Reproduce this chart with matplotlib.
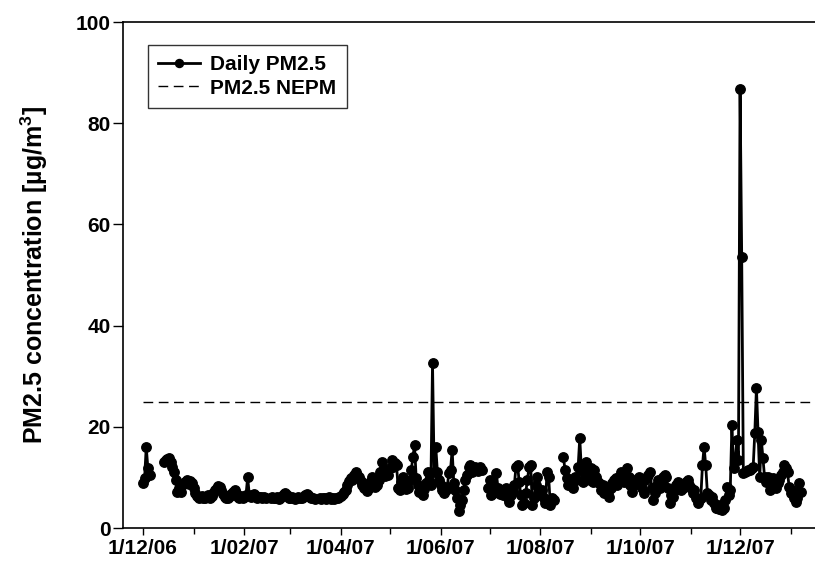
import matplotlib
matplotlib.use('Agg')
import matplotlib.pyplot as plt
import matplotlib.dates as mdates
import matplotlib.ticker as ticker
import pandas as pd

plt.rcParams['font.family'] = ['Liberation Sans', 'DejaVu Sans']
plt.rcParams['font.weight'] = 'bold'
plt.rcParams['axes.labelweight'] = 'bold'
plt.rcParams['mathtext.fontset'] = 'custom'
plt.rcParams['mathtext.rm'] = 'Liberation Sans:bold'
plt.rcParams['mathtext.bf'] = 'Liberation Sans:bold'

# daily PM2.5 [ug/m3], one list per unbroken run of samples
start_1 = '2006-12-01'
pm_1 = [8.9, 9.8, 16.0, 11.9, 10.5]

start_2 = '2006-12-14'
pm_2 = [13.0, 13.4, 13.6, 13.8, 13.0, 12.0, 11.0, 9.5, 7.1, 8.0,
        7.2, 8.5, 8.8, 9.0, 9.5, 8.6, 9.2, 8.9, 8.0, 7.0,
        6.3, 6.0, 6.1, 6.4, 6.0, 5.9, 6.2, 6.6, 6.0, 6.3,
        7.0, 7.5, 7.9, 8.3, 8.1, 7.6, 6.8, 6.2, 6.0, 5.9,
        6.3, 6.8, 7.2, 7.5, 6.9, 6.2, 6.0, 6.4, 6.0, 6.2,
        6.6, 10.0, 6.6, 6.2, 6.5, 6.8, 6.4, 6.0, 6.1, 6.1,
        6.0, 6.2, 5.9]

start_3 = '2007-02-17'
pm_3 = [6.0, 6.2, 5.9, 6.0, 6.1, 5.8, 6.0, 6.3, 6.8, 7.0,
        6.5, 6.0, 5.9, 6.1, 6.0, 5.8, 6.0, 6.2, 5.9, 6.0,
        6.2, 6.5, 6.8, 6.6, 6.1, 5.9, 6.0, 5.8]

start_4 = '2007-03-19'
pm_4 = [6.0, 5.8, 5.9, 6.0, 5.8, 5.9, 6.1, 5.8, 5.9, 5.7,
        5.9, 6.0, 6.2, 6.4, 6.8, 7.1, 7.5, 8.5, 9.2, 9.8,
        9.5, 10.5, 11.0, 10.4, 10.0, 9.2, 8.5, 7.9, 8.2, 7.3,
        8.0, 9.0, 10.0, 9.0, 8.2, 8.5, 9.5, 11.0, 13.0, 11.5,
        10.2, 11.0, 10.5, 11.8, 13.4, 12.0, 12.8, 12.4, 7.9, 7.5,
        9.0, 10.0, 8.2, 7.8, 7.9, 9.5, 11.5, 14.0, 16.4, 9.9,
        8.5, 7.2, 8.0, 6.5, 7.8, 8.9, 11.0, 9.5, 8.5, 32.6,
        11.0, 16.0, 11.0, 9.5, 8.5, 7.5, 7.0, 7.6, 8.1, 10.9,
        11.5, 15.4, 8.9, 7.5, 6.0, 3.3, 4.5, 5.5, 7.5, 9.5,
        10.5, 12.0, 12.4, 11.0, 11.5, 12.0, 11.6, 11.2, 12.0, 11.5]

start_5 = '2007-06-30'
pm_5 = [8.0, 9.5, 6.5, 7.0, 8.0, 10.9, 8.0, 6.8, 7.5, 6.5,
        6.9, 8.0, 6.0, 5.1, 6.5, 7.5, 8.5, 12.0, 12.4, 9.0,
        6.5, 4.5, 5.0, 7.0, 9.5, 12.0, 12.4, 4.5, 6.0, 8.5,
        10.0, 7.0, 6.5, 7.5, 6.0, 5.0, 11.0, 10.0, 4.5, 6.0,
        5.5]

start_6 = '2007-08-15'
pm_6 = [14.0, 11.5, 9.9, 8.5, 9.0, 8.8, 8.0, 10.0, 9.5, 12.0,
        17.8, 11.5, 9.0, 10.5, 13.0, 11.0, 9.5, 11.9, 9.0, 11.5,
        10.0, 9.0, 8.9, 7.5, 8.5, 7.0, 8.1, 7.2, 6.1, 8.0,
        8.8, 9.5, 9.9, 8.5, 10.0, 11.0, 10.2, 9.0, 10.5, 11.9,
        10.0, 8.5, 7.1, 8.5, 9.5, 9.0, 10.0, 9.0, 8.0, 7.0,
        9.5, 10.0, 10.5, 11.0, 8.0, 5.5, 7.0, 8.5, 9.5, 8.0,
        9.0, 10.0, 10.5, 10.0, 8.0, 5.0, 6.5, 6.1, 7.5, 8.5,
        9.1, 8.0, 7.5, 8.0, 8.5, 9.0, 9.5, 8.5, 8.0, 7.0,
        7.5, 6.0, 5.0, 5.5, 6.0, 12.4, 16.0, 12.4, 7.0, 6.5,
        5.5, 6.1, 5.0, 4.0, 3.9, 3.8, 4.5, 3.6, 4.0, 5.5,
        8.1, 6.5, 7.5, 20.3, 11.9, 13.5, 17.4, 13.4, 86.8, 53.6,
        10.8, 11.0, 11.2, 11.5, 11.5, 11.8, 12.0, 18.8, 27.7, 19.0,
        10.0, 17.4, 13.8, 10.0, 9.0, 10.0, 7.5, 8.5, 9.9, 9.0,
        8.0, 8.9, 9.5, 10.5, 11.0, 12.4, 11.8, 11.0, 8.1, 6.9,
        7.5, 6.0, 5.1, 6.0, 8.9, 7.1]

nepm = 25.0


def run(start, vals):
    return pd.Series(vals, index=pd.date_range(start, periods=len(vals), freq='D'))


runs = [(start_1, pm_1), (start_2, pm_2), (start_3, pm_3),
        (start_4, pm_4), (start_5, pm_5), (start_6, pm_6)]
pm = pd.concat([run(s, v) for s, v in runs]).asfreq('D')  # missing days -> NaN

fig = plt.figure(figsize=(8.15, 5.71), dpi=100)
ax = fig.add_axes([123 / 815, 43 / 571, 692 / 815, 506 / 571])

ax.plot(pm.index, pm.values, color='black', lw=2, marker='o', ms=6.8,
        label='Daily PM2.5')
ax.plot([pd.Timestamp('2006-12-01'), pd.Timestamp('2008-01-31')], [nepm, nepm],
        color='black', lw=1, dashes=(7, 4), label='PM2.5 NEPM')

t0 = mdates.date2num(pd.Timestamp('2006-12-01'))
ax.set_xlim(t0 - 12.2, t0 + 410.8)
ax.set_ylim(0, 100)


def dmy(x, pos):
    d = mdates.num2date(x)
    return '{}/{:02d}/{:02d}'.format(d.day, d.month, d.year % 100)


ax.xaxis.set_major_locator(mdates.MonthLocator(bymonth=[2, 4, 6, 8, 10, 12]))
ax.xaxis.set_minor_locator(mdates.MonthLocator())
ax.xaxis.set_major_formatter(ticker.FuncFormatter(dmy))
ax.yaxis.set_major_locator(ticker.MultipleLocator(20))

ax.tick_params(axis='y', which='major', direction='out', length=7, width=1,
               labelsize=15, pad=2)
ax.tick_params(axis='x', which='major', direction='out', length=5, width=1,
               labelsize=15, pad=3)
ax.tick_params(axis='x', which='minor', direction='out', length=4, width=1)
for s in ('left', 'bottom', 'top'):
    ax.spines[s].set_linewidth(1.2)
ax.spines['right'].set_visible(False)

ax.set_ylabel(r'PM2.5 concentration [µg/m$^{3}$]', fontsize=18, labelpad=18)

leg = ax.legend(loc='upper left', bbox_to_anchor=(25 / 692, 483 / 506), fontsize=15,
                frameon=True, fancybox=False, edgecolor='black', borderaxespad=0,
                handlelength=2.0, borderpad=0.5, labelspacing=0.2,
                handletextpad=0.5, markerscale=0.85)
leg.get_frame().set_linewidth(1)

fig.savefig('out.png', dpi=100)
